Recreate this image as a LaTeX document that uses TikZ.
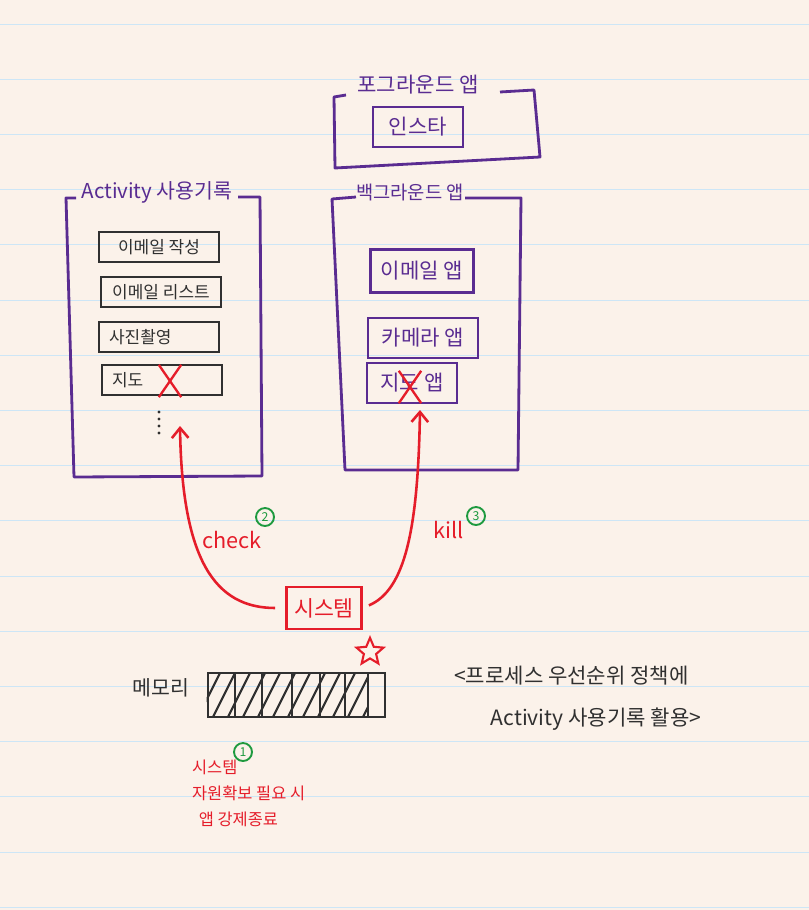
\documentclass[tikz,border=0pt]{standalone}
\usepackage{fontspec}
\newfontfamily\kr{Noto Sans CJK KR}
\usetikzlibrary{arrows.meta,calc,shapes.misc,shapes.geometric}
\definecolor{Paper}{HTML}{FBF2EA}
\definecolor{Rule}{HTML}{CDE6F6}
\definecolor{Violet}{HTML}{5A2C91}
\definecolor{Ink}{HTML}{303030}
\definecolor{Signal}{HTML}{E51D2A}
\definecolor{Badge}{HTML}{1E9A3F}
\tikzset{
  appFrame/.style={draw=Violet,line width=2.4pt,line join=round},
  frameTitle/.style={text=Violet,font=\kr\fontsize{16}{18}\selectfont,inner sep=1pt},
  histItem/.style={draw=Ink,line width=2.4pt,minimum width=36mm,minimum height=9mm,text=Ink,font=\kr\fontsize{14.5}{16}\selectfont},
  histLeft/.style={histItem,text width=30mm,align=left},
  appItem/.style={draw=Violet,line width=2.4pt,minimum height=12mm,text=Violet,font=\kr\fontsize{18}{20}\selectfont},
  killMark/.style={cross out,draw=Signal,line width=2pt,minimum width=6mm,minimum height=9mm,inner sep=0pt},
  redNote/.style={text=Signal,font=\kr\fontsize{18.5}{20}\selectfont},
  badge/.style={circle,draw=Badge,text=Badge,line width=1.6pt,inner sep=0pt,minimum size=5.4mm,font=\kr\fontsize{10.5}{10.5}\selectfont},
  curveArrow/.style={draw=Signal,line width=2.2pt,-{Straight Barb[length=3mm,width=5mm]}}
}
\begin{document}
\begin{tikzpicture}[x=0.3mm,y=-0.3mm]
% paper and ruling
\fill[Paper] (0,0) rectangle (809,910);
\useasboundingbox (0,0) rectangle (809,910);
\foreach \k in {0,...,16}
  \draw[Rule,line width=0.6pt] (0,24+55.2*\k) -- (809,24+55.2*\k);

% Activity history
\node[frameTitle,font=\kr\fontsize{17.5}{19}\selectfont] (actTitle) at (157,192) {Activity 사용기록};
\draw[appFrame] (76,198) -- (66,198) -- (74,477) -- (262,476) -- (260,197) -- (238,197);
\node[histItem] (histWrite) at (159,247) {이메일 작성};
\node[histItem] (histList) at (161,292) {이메일 리스트};
\node[histLeft] (histPhoto) at (159,337) {사진촬영};
\node[histLeft] (histMap) at (162,380) {지도};
\node[killMark] (histKill) at (170,381) {};
\coordinate (more) at (159,412);
\foreach \d in {0,...,3}
  \fill[Ink] ($(more)+(0,7*\d)$) circle (1.3pt);

% foreground app
\node[frameTitle,font=\kr\fontsize{18}{20}\selectfont] (fgTitle) at (418,85) {포그라운드 앱};
\draw[appFrame] (346,95) -- (334,97) -- (335,168) -- (540,157) -- (534,90) -- (500,92);
\node[appItem,minimum width=27mm] (fgInsta) at (418,127) {인스타};

% background apps
\node[frameTitle] (bgTitle) at (410,192) {백그라운드 앱};
\draw[appFrame] (356,197) -- (332,199) -- (345,470) -- (518,470) -- (521,198) -- (465,198);
\node[appItem,minimum width=31mm,minimum height=13mm] (bgMail) at (422,271) {이메일 앱};
\node[appItem,minimum width=33mm] (bgCam) at (423,338) {카메라 앱};
\node[appItem,minimum width=27mm] (bgMap) at (412,383) {지도 앱};
\node[killMark] (bgKill) at (410,387) {};

% system and its two actions
\node[draw=Signal,line width=2.2pt,text=Signal,font=\kr\fontsize{18.5}{20}\selectfont,minimum width=22.5mm,minimum height=12.6mm] (sys) at (324,608) {시스템};
\coordinate (checkTip) at (180,426);
\coordinate (killTip) at (420,410);
\draw[curveArrow,shorten <=3mm] (sys.west) .. controls (215,608) and (182,560) .. (checkTip);
\draw[curveArrow,shorten <=2mm] (sys.east) .. controls (405,590) and (418,530) .. (killTip);
\node[redNote] (checkLbl) at (232,540) {check};
\node[badge] (checkNo) at (265,517) {2};
\node[redNote] (killLbl) at (449,530) {kill};
\node[badge] (killNo) at (476,516) {3};

% memory
\node[text=Ink,font=\kr\fontsize{17.5}{19}\selectfont] (memLbl) at (161,688) {메모리};
\node[draw=Ink,line width=2.4pt,minimum width=53.1mm,minimum height=13.2mm,inner sep=0pt] (memBar) at (296.5,695) {};
\begin{scope}
  \clip (memBar.south west) rectangle (368,673);
  \foreach \h in {198,213,...,368}
    \draw[Ink,line width=1.8pt] (\h,717) -- (\h+22,673);
\end{scope}
\foreach \c in {235,262,292,320,345,368}
  \draw[Ink,line width=2pt] (\c,673) -- (\c,717);
\node[star,star points=5,star point ratio=2.2,draw=Signal,line width=1.8pt,minimum size=8.5mm,inner sep=0pt] (freeMark) at (370,652) {};

\node[badge] (reclaimNo) at (243,752) {1};
\node[text=Signal,font=\kr\fontsize{14}{22}\selectfont,align=left,anchor=north west] (reclaimNote) at (188,756)
  {시스템\\자원확보 필요 시\\\hspace*{2mm}앱 강제종료};

\node[text=Ink,font=\kr\fontsize{18}{36}\selectfont,align=left,anchor=north west] (policy) at (450,662)
  {<프로세스 우선순위 정책에\\\hspace*{11mm}Activity 사용기록 활용>};
\end{tikzpicture}
\end{document}
